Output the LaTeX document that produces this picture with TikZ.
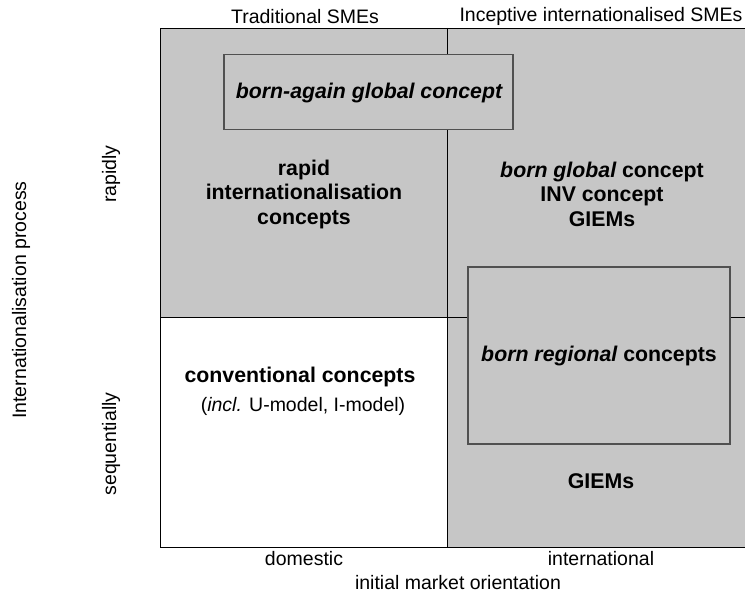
\documentclass[tikz,border=0pt]{standalone}
\usepackage{fontspec}
\setmainfont{Liberation Sans}
\definecolor{cellgray}{HTML}{C6C6C6}
\definecolor{boxedge}{HTML}{505050}
\begin{document}
\begin{tikzpicture}[x=1pt,y=-1pt,
  lbl/.style={font=\fontsize{19.5}{23}\selectfont, inner sep=0pt, anchor=center},
  bold/.style={font=\fontsize{21.3}{24.5}\selectfont\bfseries, inner sep=0pt, align=center, anchor=center},
  inbox/.style={draw=boxedge, line width=1.2pt, fill=cellgray},
  grid/.style={draw=black, line width=0.9pt}]
\useasboundingbox (0,0) rectangle (745,593);
% cells
\fill[cellgray] (160,28) rectangle (746,317);
\fill[cellgray] (447,317) rectangle (746,547);
\fill[white] (160,317) rectangle (447,547);
% grid lines
\draw[grid] (746,28) -- (160,28) -- (160,547) -- (746,547);
\draw[grid] (447,28) -- (447,547);
\draw[grid] (160,317) -- (746,317);
% inner boxes
\node[inbox, minimum width=289pt, minimum height=75pt, inner sep=0pt] (bag) at (368.5,92) {};
\node[bold] at (369,93) {\itshape born-again global concept};
\node[inbox, minimum width=262pt, minimum height=177pt, inner sep=0pt] (br) at (599,355.5) {};
\node[bold] at (br.center) {\itshape born regional\upshape{} concepts};
% cell texts
\node[bold] (rapid) at (304,194) {rapid\\internationalisation\\concepts};
\node[bold] (bg) at (602,194) {\itshape born global\upshape{} concept\\INV concept\\GIEMs};
\node[bold] (conv) at (300,377) {conventional concepts};
\node[lbl] (incl) at (303,406) {(\textit{incl.} U-model, I-model)};
\node[bold] (giems) at (601,481.5) {GIEMs};
% header labels
\node[lbl] (trad) at (305,16.5) {Traditional SMEs};
\node[lbl] (incep) at (601,16.5) {Inceptive internationalised SMEs};
\node[lbl] (dom) at (304,559) {domestic};
\node[lbl] (intl) at (601,559) {international};
\node[lbl] (imo) at (458,583) {initial market orientation};
% side labels
\node[lbl, rotate=90] (ip) at (21,300) {Internationalisation process};
\node[lbl, rotate=90] (rap) at (111,174) {rapidly};
\node[lbl, rotate=90] (seq) at (111,444) {sequentially};
\end{tikzpicture}
\end{document}
